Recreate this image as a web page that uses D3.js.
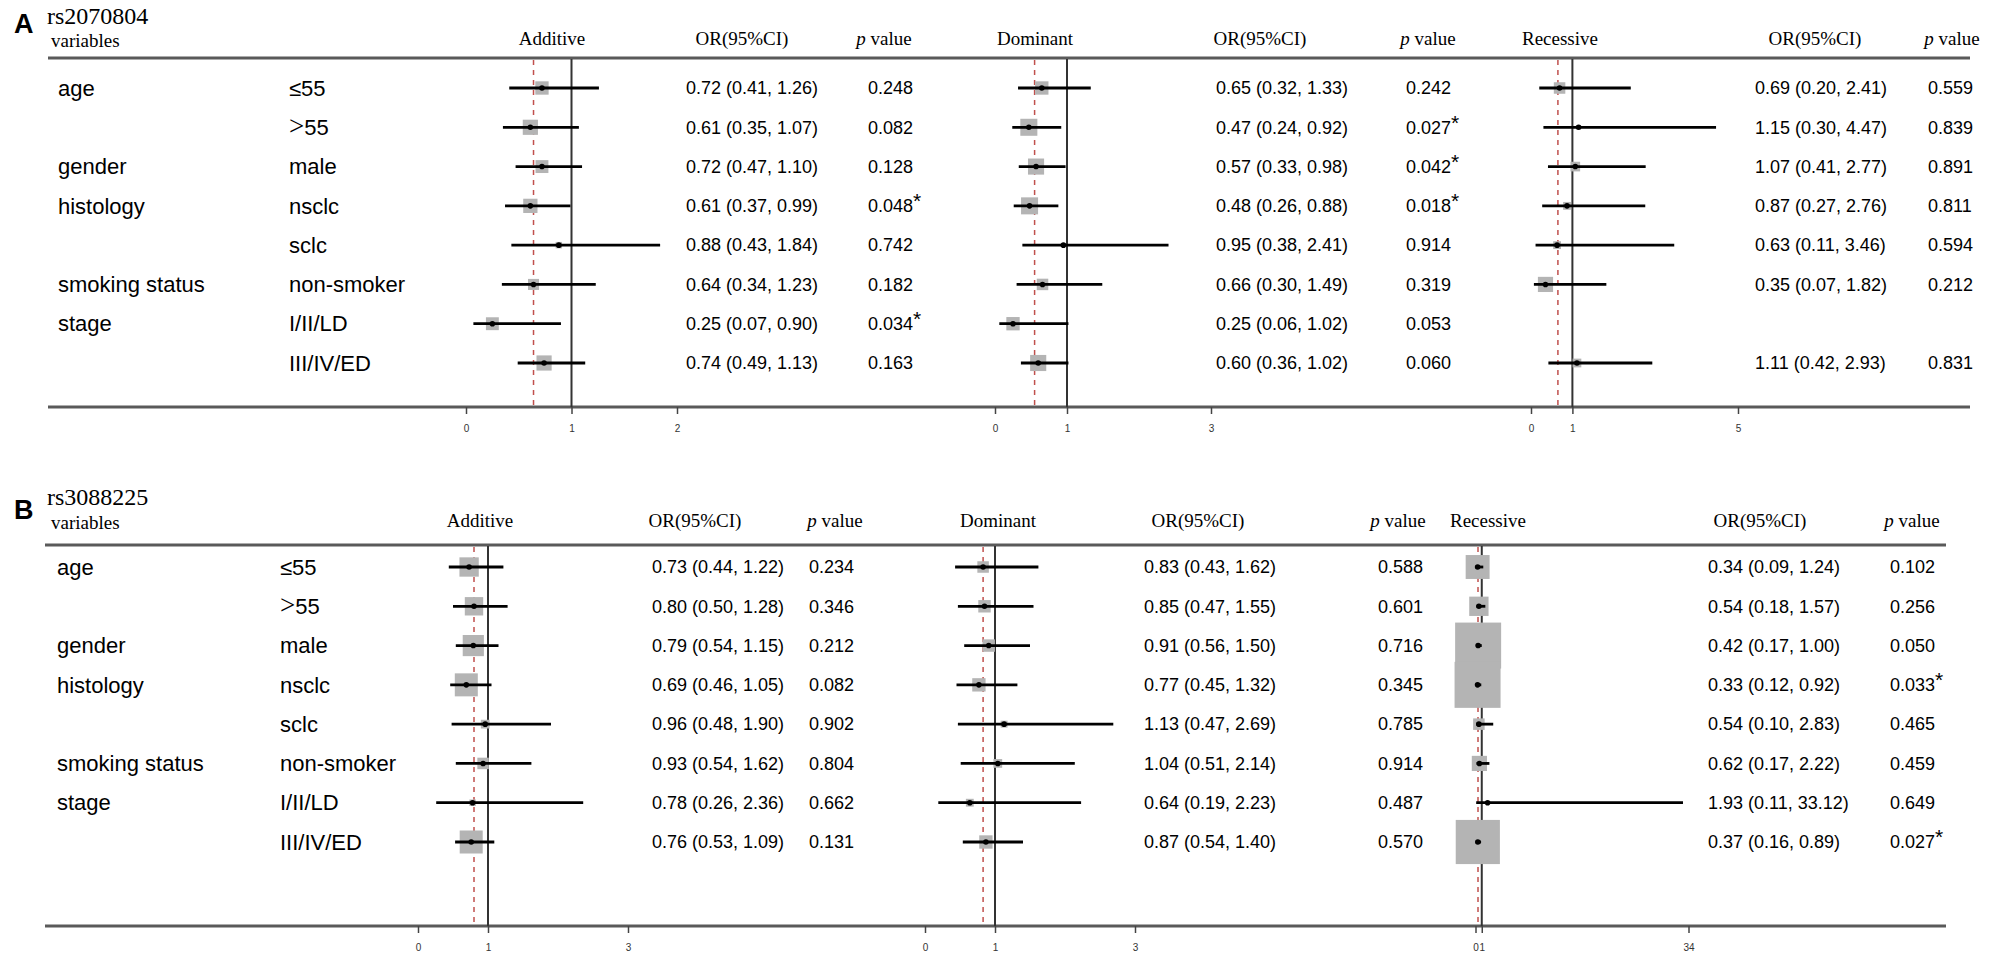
<!DOCTYPE html>
<html>
<head>
<meta charset="utf-8">
<script src="https://cdn.jsdelivr.net/npm/d3@7"></script>
<style>
  body { margin: 0; background: #fff; }
</style>
</head>
<body>
<svg id="chart" width="1997" height="955"></svg>
<script>

// Data
// ----------

var variables = ["age", "", "gender", "histology", "", "smoking status", "stage", ""];
var subgroups = ["≤55", ">55", "male", "nsclc", "sclc", "non-smoker", "I/II/LD", "III/IV/ED"];
var models = ["Additive", "Dominant", "Recessive"];

// rs2070804 : [OR, lower 95%CI, upper 95%CI, p]
var A_additive = [
  [0.72, 0.41, 1.26, 0.248], [0.61, 0.35, 1.07, 0.082], [0.72, 0.47, 1.10, 0.128],
  [0.61, 0.37, 0.99, 0.048], [0.88, 0.43, 1.84, 0.742], [0.64, 0.34, 1.23, 0.182],
  [0.25, 0.07, 0.90, 0.034], [0.74, 0.49, 1.13, 0.163]
];
var A_dominant = [
  [0.65, 0.32, 1.33, 0.242], [0.47, 0.24, 0.92, 0.027], [0.57, 0.33, 0.98, 0.042],
  [0.48, 0.26, 0.88, 0.018], [0.95, 0.38, 2.41, 0.914], [0.66, 0.30, 1.49, 0.319],
  [0.25, 0.06, 1.02, 0.053], [0.60, 0.36, 1.02, 0.060]
];
var A_recessive = [
  [0.69, 0.20, 2.41, 0.559], [1.15, 0.30, 4.47, 0.839], [1.07, 0.41, 2.77, 0.891],
  [0.87, 0.27, 2.76, 0.811], [0.63, 0.11, 3.46, 0.594], [0.35, 0.07, 1.82, 0.212],
  null, [1.11, 0.42, 2.93, 0.831]
];

// rs3088225
var B_additive = [
  [0.73, 0.44, 1.22, 0.234], [0.80, 0.50, 1.28, 0.346], [0.79, 0.54, 1.15, 0.212],
  [0.69, 0.46, 1.05, 0.082], [0.96, 0.48, 1.90, 0.902], [0.93, 0.54, 1.62, 0.804],
  [0.78, 0.26, 2.36, 0.662], [0.76, 0.53, 1.09, 0.131]
];
var B_dominant = [
  [0.83, 0.43, 1.62, 0.588], [0.85, 0.47, 1.55, 0.601], [0.91, 0.56, 1.50, 0.716],
  [0.77, 0.45, 1.32, 0.345], [1.13, 0.47, 2.69, 0.785], [1.04, 0.51, 2.14, 0.914],
  [0.64, 0.19, 2.23, 0.487], [0.87, 0.54, 1.40, 0.570]
];
var B_recessive = [
  [0.34, 0.09, 1.24, 0.102], [0.54, 0.18, 1.57, 0.256], [0.42, 0.17, 1.00, 0.050],
  [0.33, 0.12, 0.92, 0.033], [0.54, 0.10, 2.83, 0.465], [0.62, 0.17, 2.22, 0.459],
  [1.93, 0.11, 33.12, 0.649], [0.37, 0.16, 0.89, 0.027]
];

// relative box weights (largest box in the figure = 100)
var A_weights = [
  [29, 33, 28, 31, 14, 24, 28, 33],
  [29, 37, 35, 37, 8, 25, 29, 35],
  [25, 10, 21, 17, 17, 33, 0, 19]
];
var B_weights = [
  [42, 40, 46, 50, 19, 25, 14, 50],
  [25, 27, 27, 29, 15, 19, 17, 29],
  [52, 42, 100, 100, 25, 33, 6, 96]
];

// pooled OR (red dashed line) and axis ticks per model
var A_pooled = [0.64, 0.55, 0.65];
var B_pooled = [0.80, 0.83, 0.40];
var A_ticks = [[0, 1, 2], [0, 1, 3], [0, 1, 5]];
var B_ticks = [[0, 1, 3], [0, 1, 3], [0, 1, 34]];

// Layout
// ----------

var panels = [
  {
    letter: "A", snp: "rs2070804", rows: [A_additive, A_dominant, A_recessive],
    weights: A_weights, pooled: A_pooled, ticks: A_ticks,
    letterY: 33, snpY: 24, varY: 47, headY: 45, ruleY: 58, axisY: 407, rowTop: 88, rowBottom: 363,
    ruleX: [48, 1970], varX: 58, subX: 289,
    cols: [
      { range: [466, 677],   head: 552,  orX: 686,  orHead: 742,  pX: 868,  pHead: 884 },
      { range: [995, 1211],  head: 1035, orX: 1216, orHead: 1260, pX: 1406, pHead: 1428 },
      { range: [1531, 1738], head: 1560, orX: 1755, orHead: 1815, pX: 1928, pHead: 1952 }
    ]
  },
  {
    letter: "B", snp: "rs3088225", rows: [B_additive, B_dominant, B_recessive],
    weights: B_weights, pooled: B_pooled, ticks: B_ticks,
    letterY: 519, snpY: 505, varY: 529, headY: 527, ruleY: 545, axisY: 926, rowTop: 567, rowBottom: 842,
    ruleX: [45, 1946], varX: 57, subX: 280,
    cols: [
      { range: [418, 628],       head: 480,  orX: 652,  orHead: 695,  pX: 809,  pHead: 835 },
      { range: [925, 1135],      head: 998,  orX: 1144, orHead: 1198, pX: 1378, pHead: 1398 },
      { range: [1475.5, 1688.5], head: 1488, orX: 1708, orHead: 1760, pX: 1890, pHead: 1912 }
    ]
  }
];

var sans = "'Liberation Sans', Arial, sans-serif";
var serif = "'Liberation Serif', 'Times New Roman', serif";
var fmt = d3.format(".2f");
var boxSize = d3.scaleLinear().domain([0, 100]).range([0, 46]);

var svg = d3.select("#chart");

function drawPanel(p) {

  var g = svg.append("g").attr("class", "panel-" + p.letter);
  var y = d3.scalePoint().domain(d3.range(subgroups.length)).range([p.rowTop, p.rowBottom]);

  // titles
  g.append("text")
    .attr("x", 14).attr("y", p.letterY)
    .attr("font-family", sans).attr("font-weight", "bold").attr("font-size", 27)
    .text(p.letter);
  g.append("text")
    .attr("x", 47).attr("y", p.snpY)
    .attr("font-family", serif).attr("font-size", 24)
    .text(p.snp);
  g.append("text")
    .attr("x", 51).attr("y", p.varY)
    .attr("font-family", serif).attr("font-size", 19)
    .text("variables");

  // rules
  g.append("line")
    .attr("x1", p.ruleX[0]).attr("x2", p.ruleX[1])
    .attr("y1", p.ruleY).attr("y2", p.ruleY)
    .attr("stroke", "#5a5a5a").attr("stroke-width", 3);
  g.append("line")
    .attr("x1", p.ruleX[0]).attr("x2", p.ruleX[1])
    .attr("y1", p.axisY).attr("y2", p.axisY)
    .attr("stroke", "#5a5a5a").attr("stroke-width", 3);

  // row labels
  g.selectAll(".var").data(variables).enter().append("text")
    .attr("class", "var")
    .attr("x", p.varX).attr("y", function(d, i) { return y(i); })
    .attr("dy", "0.35em")
    .attr("font-family", sans).attr("font-size", 22)
    .text(function(d) { return d; });
  var sub = g.selectAll(".sub").data(subgroups).enter().append("text")
    .attr("class", "sub")
    .attr("x", p.subX).attr("y", function(d, i) { return y(i); })
    .attr("dy", "0.35em")
    .attr("font-family", sans).attr("font-size", 22);
  sub.each(function(d) {
    var t = d3.select(this);
    if (d.charAt(0) === ">") {
      // the reference uses a wide, thin ">" glyph
      t.append("tspan").attr("font-family", serif).attr("font-size", 27).text(">");
      t.append("tspan").text(d.slice(1));
    } else {
      t.text(d);
    }
  });

  p.cols.forEach(function(c, k) {

    var x = d3.scaleLinear().domain([0, d3.max(p.ticks[k])]).range(c.range);
    var rows = p.rows[k].map(function(r, i) {
      return r ? { or: r[0], lo: r[1], hi: r[2], p: r[3], w: p.weights[k][i], i: i } : null;
    }).filter(function(r) { return r; });

    // column headers
    g.append("text").attr("x", c.head).attr("y", p.headY)
      .attr("text-anchor", "middle").attr("font-family", serif).attr("font-size", 19)
      .text(models[k]);
    g.append("text").attr("x", c.orHead).attr("y", p.headY)
      .attr("text-anchor", "middle").attr("font-family", serif).attr("font-size", 19)
      .text("OR(95%CI)");
    var ph = g.append("text").attr("x", c.pHead).attr("y", p.headY)
      .attr("text-anchor", "middle").attr("font-family", serif).attr("font-size", 19);
    ph.append("tspan").attr("font-style", "italic").text("p");
    ph.append("tspan").text(" value");

    // reference lines
    g.append("line")
      .attr("x1", x(p.pooled[k])).attr("x2", x(p.pooled[k]))
      .attr("y1", p.ruleY + 2).attr("y2", p.axisY)
      .attr("stroke", "#c0504d").attr("stroke-width", 1.5)
      .attr("stroke-dasharray", "5,5");
    g.append("line")
      .attr("x1", x(1)).attr("x2", x(1))
      .attr("y1", p.ruleY + 1).attr("y2", p.axisY)
      .attr("stroke", "#333").attr("stroke-width", 2);

    // axis ticks
    var axis = d3.axisBottom(x)
      .tickValues(p.ticks[k])
      .tickFormat(d3.format("d"))
      .tickSize(7)
      .tickPadding(11);
    var ag = g.append("g")
      .attr("transform", "translate(0," + p.axisY + ")")
      .call(axis);
    ag.select(".domain").remove();
    ag.selectAll(".tick line").attr("stroke", "#444").attr("stroke-width", 1.5);
    ag.selectAll(".tick text")
      .attr("font-family", sans).attr("font-size", 10).attr("fill", "#333");

    // boxes, CI lines, points
    var mark = g.selectAll(".mark-" + k).data(rows).enter().append("g")
      .attr("class", "mark-" + k);
    mark.append("rect")
      .attr("x", function(d) { return x(d.or) - boxSize(d.w) / 2; })
      .attr("y", function(d) { return y(d.i) - boxSize(d.w) / 2; })
      .attr("width", function(d) { return boxSize(d.w); })
      .attr("height", function(d) { return boxSize(d.w); })
      .attr("fill", "#b4b4b4");
    mark.append("line")
      .attr("x1", function(d) { return x(d.lo); })
      .attr("x2", function(d) { return x(d.hi); })
      .attr("y1", function(d) { return y(d.i); })
      .attr("y2", function(d) { return y(d.i); })
      .attr("stroke", "#000").attr("stroke-width", 2.8);
    mark.append("circle")
      .attr("cx", function(d) { return x(d.or); })
      .attr("cy", function(d) { return y(d.i); })
      .attr("r", 2.8)
      .attr("fill", "#000");

    // OR text and p value
    g.selectAll(".or-" + k).data(rows).enter().append("text")
      .attr("class", "or-" + k)
      .attr("x", c.orX).attr("y", function(d) { return y(d.i); })
      .attr("dy", "0.35em")
      .attr("font-family", sans).attr("font-size", 18)
      .text(function(d) { return fmt(d.or) + " (" + fmt(d.lo) + ", " + fmt(d.hi) + ")"; });
    var pt = g.selectAll(".p-" + k).data(rows).enter().append("text")
      .attr("class", "p-" + k)
      .attr("x", c.pX).attr("y", function(d) { return y(d.i); })
      .attr("dy", "0.35em")
      .attr("font-family", sans).attr("font-size", 18);
    pt.append("tspan").text(function(d) { return d3.format(".3f")(d.p); });
    pt.filter(function(d) { return d.p < 0.05; })
      .append("tspan").attr("dy", -4).attr("font-size", 21).text("*");
  });
}

panels.forEach(drawPanel);

</script>
</body>
</html>
